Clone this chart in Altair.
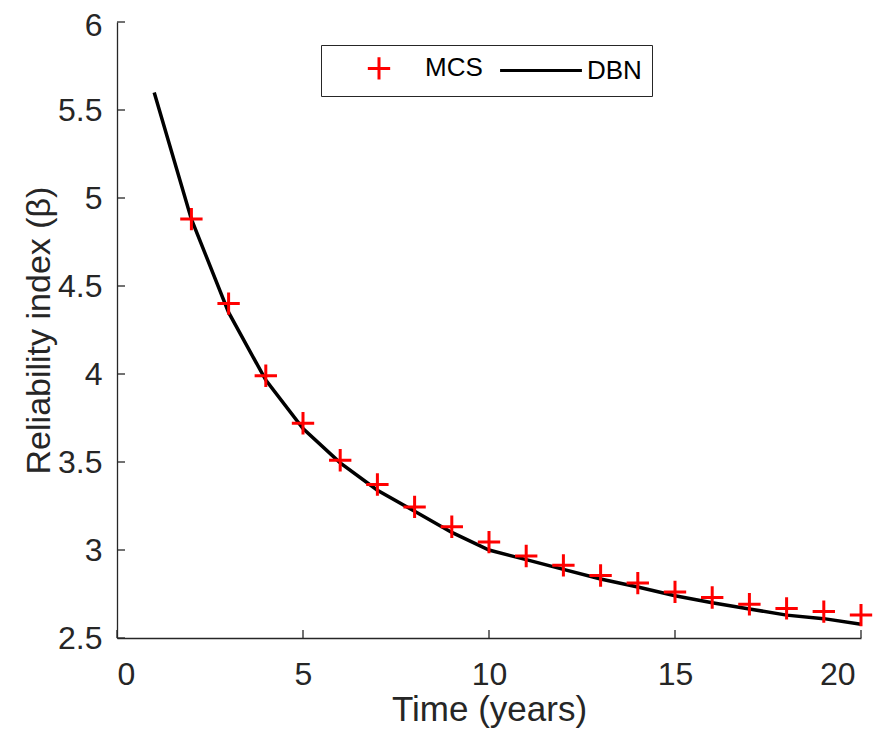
import altair as alt
import pandas as pd

# DBN (line) values
years_dbn = list(range(1, 21))
beta_dbn = [5.60, 4.88, 4.35, 3.965, 3.69, 3.495, 3.34, 3.22, 3.10, 3.00,
            2.945, 2.89, 2.835, 2.79, 2.74, 2.70, 2.665, 2.63, 2.61, 2.578]

# MCS (plus markers) values
years_mcs = list(range(2, 21))
beta_mcs = [4.88, 4.40, 3.99, 3.72, 3.51, 3.372, 3.245, 3.132, 3.045, 2.966,
            2.913, 2.855, 2.812, 2.762, 2.73, 2.692, 2.668, 2.65, 2.63]

series_names = ["MCS", "DBN"]
series_colors = ["#ff0000", "#000000"]

x_ticks = [0, 5, 10, 15, 20]
y_ticks = [2.5, 3, 3.5, 4, 4.5, 5, 5.5, 6]

df = pd.concat([
    pd.DataFrame({"t": years_mcs, "beta": beta_mcs, "series": "MCS"}),
    pd.DataFrame({"t": years_dbn, "beta": beta_dbn, "series": "DBN"}),
], ignore_index=True)

xt_df = pd.DataFrame({"t": x_ticks})
yt_df = pd.DataFrame({"beta": y_ticks})

PLUS = "M-1,0L1,0M0,-1L0,1"
LINE_LONG = "M-3.66,0L3.66,0"

FONT = "Liberation Sans"
AX = "#262626"
W, H = 744, 616

x_scale = alt.Scale(domain=[0, 20], nice=False, zero=False)
y_scale = alt.Scale(domain=[2.5, 6], nice=False, zero=False)

x_enc = alt.X(
    "t:Q", scale=x_scale,
    axis=alt.Axis(
        title="Time (years)", values=x_ticks, format="d", grid=False,
        ticks=False, labelPadding=21.5,
        labelOffset={"condition": {"test": "datum.value === 20", "value": -6}, "value": 0},
        titleY=82, titleBaseline="alphabetic", titleFontSize=35,
    ),
)
y_enc = alt.Y(
    "beta:Q", scale=y_scale,
    axis=alt.Axis(
        title="Reliability index (β)", values=y_ticks, format="~g", grid=False,
        ticks=False, labelPadding=15,
        labelOffset={"condition": {"test": "datum.value === 6", "value": 3}, "value": 0},
        titleX=-68, titleBaseline="alphabetic", titleFontSize=34,
    ),
)

legend_kw = dict(
    title=None, orient="none", legendX=204, legendY=23,
    direction="horizontal", columns=2,
    symbolSize=500, symbolStrokeWidth=3, symbolOffset=35,
    labelFontSize=26, labelFont=FONT, labelColor="#000000",
    labelOffset=33, columnPadding=10, padding=10,
    strokeColor=AX, fillColor="#ffffff",
)

color_enc = alt.Color(
    "series:N",
    scale=alt.Scale(domain=series_names, range=series_colors),
    legend=alt.Legend(**legend_kw),
)
shape_enc = alt.Shape(
    "series:N",
    scale=alt.Scale(domain=series_names, range=[PLUS, LINE_LONG]),
    legend=alt.Legend(**legend_kw),
)

base = alt.Chart(df)

line = base.transform_filter(alt.datum.series == "DBN").mark_line(
    strokeWidth=3.5
).encode(x=x_enc, y=y_enc, color=color_enc)

points = base.transform_filter(alt.datum.series == "MCS").mark_point(
    filled=False, size=500, strokeWidth=3, opacity=1
).encode(x=x_enc, y=y_enc, color=color_enc, shape=shape_enc)

# inward tick marks
xticks_layer = alt.Chart(xt_df).mark_rule(color=AX, strokeWidth=1.3).encode(
    x=alt.X("t:Q", scale=x_scale),
    y=alt.value(H), y2=alt.value(H - 8),
)
yticks_layer = alt.Chart(yt_df).mark_rule(color=AX, strokeWidth=1.3).encode(
    y=alt.Y("beta:Q", scale=y_scale),
    x=alt.value(0), x2=alt.value(8),
)

chart = alt.layer(xticks_layer, yticks_layer, line, points).properties(
    width=W, height=H,
    autosize=alt.AutoSizeParams(type="none"),
    padding={"left": 109, "top": 14, "right": 12, "bottom": 90},
).configure_view(stroke=None).configure_axis(
    domainColor=AX, domainWidth=1.3,
    labelFont=FONT, labelFontSize=32, labelColor=AX,
    titleFont=FONT, titleColor=AX, titleFontWeight="normal",
)

chart.save("out.html", embed_options={"renderer": "svg", "actions": False})
